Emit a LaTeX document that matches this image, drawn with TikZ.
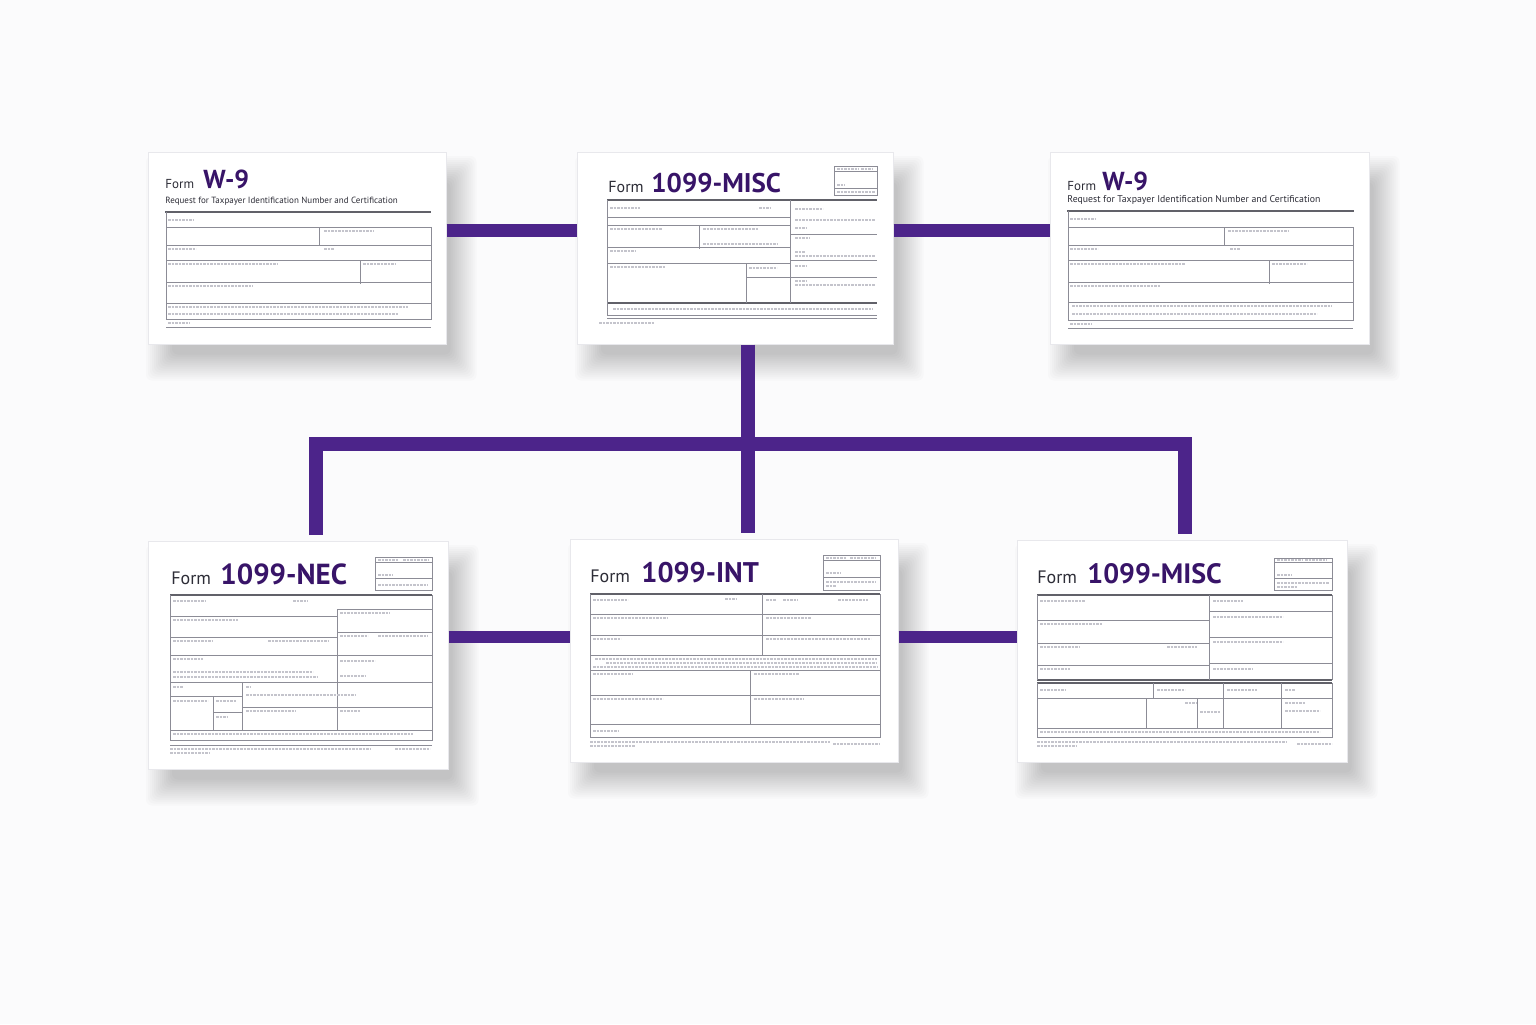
\documentclass[tikz,border=0pt]{standalone}
\usepackage{fontspec}
\setmainfont{PT Sans}
\usetikzlibrary{calc}
\definecolor{linkpurple}{RGB}{76,36,138}
\definecolor{titlepurple}{RGB}{56,20,104}
\definecolor{inkgray}{RGB}{45,45,55}
\definecolor{rulegray}{RGB}{140,140,150}
\definecolor{fillgray}{RGB}{196,196,204}
\definecolor{paper}{RGB}{251,251,252}
\pgfdeclarelayer{back}
\pgfdeclarelayer{shade}
\pgfsetlayers{back,shade,main}
\tikzset{
  card/.style={fill=white, draw={rgb,255:red,232;green,232;blue,236}, line width=0.3pt, inner sep=0pt, anchor=north west},
  link/.style={draw=linkpurple, line width=6.5pt},
  grid/.style={draw=rulegray, line width=0.35pt},
  heavy/.style={draw=inkgray!75, line width=0.8pt},
  filler/.style={draw=fillgray, line width=1pt, dash pattern=on 1.4pt off 0.35pt},
  formword/.style={anchor=base west, inner sep=0pt, text=inkgray, font=\fontsize{#1}{#1}\selectfont},
  formname/.style={anchor=base west, inner sep=0pt, text=titlepurple, font=\fontsize{#1}{#1}\selectfont\bfseries},
}
\newcommand{\fl}[3]{\draw[filler] (#1,#2) -- ++(#3,0);}
\begin{document}
\begin{tikzpicture}[x=0.5pt,y=0.5pt,yscale=-1,xscale=1]
\useasboundingbox (0,0) rectangle (1536,1024);
\begin{pgfonlayer}{back}
  \fill[paper] (0,0) rectangle (1536,1024);
\end{pgfonlayer}
% cards
\node[card, minimum width=149pt, minimum height=96pt] (wninea) at (148,152) {};
\node[card, minimum width=158pt, minimum height=96pt] (misca) at (577,152) {};
\node[card, minimum width=159.5pt, minimum height=96pt] (wnineb) at (1050,152) {};
\node[card, minimum width=150pt, minimum height=114pt] (necc) at (148,541) {};
\node[card, minimum width=164pt, minimum height=111.5pt] (intb) at (570,539) {};
\node[card, minimum width=165pt, minimum height=111pt] (miscb) at (1017,540) {};
% soft shadows
\begin{pgfonlayer}{shade}
  \foreach \c in {wninea,misca,wnineb,necc,intb,miscb}
    \foreach \s in {1,...,14}
      \fill[black, opacity=0.016, rounded corners=3pt]
        ($(\c.north west)+(26-2*\s,32-2*\s)$) rectangle ($(\c.south east)+(2+2*\s,8+2*\s)$);
\end{pgfonlayer}
% connectors
\coordinate (toprow) at (0,230.5);
\coordinate (lowrow) at (0,637);
\coordinate (hub) at (748,444);
\coordinate (busl) at (315.5,444);
\coordinate (busr) at (1185,444);
\draw[link] (wninea.east |- toprow) -- (misca.west |- toprow);
\draw[link] (misca.east |- toprow) -- (wnineb.west |- toprow);
\draw[link, line width=7pt, shorten >=3pt] (hub |- misca.south) -- (hub |- intb.north);
\draw[link, line width=7pt, shorten <=3pt, shorten >=3pt] (busl |- necc.north) -- (busl) -- (busr) -- (busr |- miscb.north);
\draw[link, line width=6pt] (necc.east |- lowrow) -- (intb.west |- lowrow);
\draw[link, line width=6pt] (intb.east |- lowrow) -- (miscb.west |- lowrow);

% W-9, left
\begin{scope}[shift={(wninea.north west)}]
  \node[formword=6.5] (wnineaform) at (17,36) {Form};
  \node[formname=13] (wnineaname) at (55,36) {W-9};
  \node[formword=4.5] (wnineasub) at (17,51) {Request for Taxpayer Identification Number and Certification};
  \draw[heavy] (17,60) -- (283,60);
  \draw[grid] (18,60) -- (18,167) -- (283,167) -- (283,75);
  \foreach \y in {75,93,108,130,151} \draw[grid] (18,\y) -- (283,\y);
  \draw[grid] (171,75) -- (171,93) (212,108) -- (212,132) (18,175) -- (283,175);
  \fl{20}{68}{25} \fl{176}{79}{50} \fl{20}{97}{28} \fl{176}{97}{10}
  \fl{20}{112}{110} \fl{215}{112}{32} \fl{20}{134}{85}
  \fl{20}{155}{240} \fl{20}{162}{230} \fl{20}{171}{22}
\end{scope}

% 1099-MISC, top
\begin{scope}[shift={(misca.north west)}]
  \node[formword=8] (miscaform) at (31,40) {Form};
  \node[formname=13.5] (miscaname) at (74,40) {1099-MISC};
  \draw[grid] (257,14) rectangle (300,43) (257,19) -- (300,19) (257,36) -- (300,36);
  \fl{260}{17}{22} \fl{284}{17}{12} \fl{260}{33}{8} \fl{260}{40}{38}
  \draw[heavy] (30,48) -- (300,48) (30,151) -- (300,151);
  \draw[grid] (30,48) -- (30,163) -- (300,163) (30,166) -- (300,166) (213,48) -- (213,151);
  \foreach \y in {65,73,95,111} \draw[grid] (30,\y) -- (213,\y);
  \foreach \y in {82,108,125} \draw[grid] (213,\y) -- (300,\y);
  \draw[grid] (122,73) -- (122,97) (169,111) -- (169,151) (169,125) -- (213,125);
  \fl{33}{56}{30} \fl{182}{56}{12} \fl{218}{57}{28} \fl{218}{68}{80}
  \fl{33}{77}{52} \fl{126}{77}{55} \fl{126}{92}{75} \fl{218}{76}{12} \fl{218}{86}{15}
  \fl{33}{99}{25} \fl{218}{100}{10} \fl{218}{104}{80}
  \fl{33}{115}{55} \fl{172}{116}{28} \fl{218}{114}{12} \fl{218}{129}{12} \fl{218}{133}{80}
  \fl{36}{157}{260} \fl{22}{171}{55}
\end{scope}

% W-9, right
\begin{scope}[shift={(wnineb.north west)}]
  \node[formword=6.5] (wninebform) at (17,38) {Form};
  \node[formname=13] (wninebname) at (52,38) {W-9};
  \node[formword=4.9] (wninebsub) at (17,50) {Request for Taxpayer Identification Number and Certification};
  \draw[heavy] (17,59) -- (304,59);
  \draw[grid] (18,59) -- (18,168) -- (303,168) -- (303,75);
  \foreach \y in {75,93,108,130,150} \draw[grid] (18,\y) -- (303,\y);
  \draw[grid] (174,75) -- (174,93) (219,108) -- (219,132) (18,176) -- (303,176);
  \fl{20}{67}{25} \fl{178}{79}{60} \fl{20}{97}{28} \fl{180}{97}{10}
  \fl{20}{112}{115} \fl{222}{112}{35} \fl{20}{134}{90}
  \fl{22}{154}{260} \fl{22}{162}{245} \fl{20}{172}{22}
\end{scope}

% 1099-NEC
\begin{scope}[shift={(necc.north west)}]
  \node[formword=9] (neccform) at (23,43) {Form};
  \node[formname=14.5] (neccname) at (72,43) {1099-NEC};
  \draw[grid] (227,16) rectangle (284,49) (227,21) -- (284,21) (227,37) -- (284,37);
  \fl{230}{19}{20} \fl{255}{19}{25} \fl{230}{34}{15} \fl{230}{44}{50}
  \draw[heavy] (22,54) -- (284,54);
  \draw[grid] (22,54) -- (22,199) -- (284,199) -- (284,54) (22,189) -- (284,189);
  \foreach \y in {75,96,114,141} \draw[grid] (22,\y) -- (189,\y);
  \foreach \y in {68,91,114,141,166} \draw[grid] (189,\y) -- (284,\y);
  \draw[grid] (189,68) -- (189,189) (94,141) -- (94,189) (65,155) -- (65,189)
    (22,155) -- (94,155) (65,171) -- (94,171) (94,166) -- (189,166);
  \fl{25}{60}{32} \fl{145}{60}{15} \fl{25}{79}{65} \fl{192}{72}{50}
  \fl{25}{100}{40} \fl{120}{100}{60} \fl{192}{95}{28} \fl{230}{95}{50}
  \fl{25}{118}{30} \fl{192}{120}{35} \fl{25}{131}{140} \fl{25}{136}{145} \fl{192}{135}{25}
  \fl{25}{146}{10} \fl{98}{146}{5} \fl{25}{160}{35} \fl{68}{160}{20} \fl{98}{154}{110}
  \fl{68}{176}{12} \fl{98}{170}{50} \fl{192}{170}{20}
  \fl{25}{193}{240}
  \draw[grid] (22,204) -- (284,204);
  \fl{22}{208}{200} \fl{22}{212}{40} \fl{247}{208}{35}
\end{scope}

% 1099-INT
\begin{scope}[shift={(intb.north west)}]
  \node[formword=9] (intbform) at (20,43) {Form};
  \node[formname=14.2] (intbname) at (71,43) {1099-INT};
  \draw[grid] (253,16) rectangle (310,51) (253,21) -- (310,21) (253,38) -- (310,38);
  \fl{256}{19}{20} \fl{280}{19}{25} \fl{256}{34}{15} \fl{256}{43}{50} \fl{256}{47}{10}
  \draw[heavy] (20,55) -- (310,55);
  \draw[grid] (20,55) -- (20,198) -- (310,198) -- (310,55);
  \foreach \y in {75,96,116,131,156,185} \draw[grid] (20,\y) -- (310,\y);
  \draw[grid] (192,55) -- (192,116) (180,131) -- (180,185);
  \fl{23}{61}{35} \fl{155}{60}{12} \fl{196}{61}{10} \fl{213}{61}{15} \fl{268}{61}{30}
  \fl{23}{79}{75} \fl{196}{79}{45} \fl{23}{100}{28} \fl{196}{100}{105}
  \fl{25}{120}{282} \fl{36}{124}{270} \fl{23}{128}{285}
  \fl{23}{135}{40} \fl{184}{135}{45} \fl{23}{160}{70} \fl{184}{160}{50} \fl{23}{192}{25}
  \fl{20}{203}{240} \fl{20}{207}{45} \fl{263}{205}{47}
\end{scope}

% 1099-MISC, bottom
\begin{scope}[shift={(miscb.north west)}]
  \node[formword=9] (miscbform) at (20,43) {Form};
  \node[formname=14] (miscbname) at (70,43) {1099-MISC};
  \draw[grid] (257,18) rectangle (315,50) (257,22) -- (315,22) (257,38) -- (315,38);
  \fl{260}{20}{25} \fl{288}{20}{22} \fl{260}{35}{15} \fl{260}{43}{52} \fl{260}{47}{20}
  \draw[heavy] (20,55) -- (315,55) (20,140) -- (315,140) (20,143) -- (315,143);
  \draw[grid] (20,55) -- (20,140) (315,55) -- (315,140) (192,55) -- (192,140);
  \foreach \y in {80,103,125} \draw[grid] (20,\y) -- (192,\y);
  \foreach \y in {71,97,123} \draw[grid] (192,\y) -- (315,\y);
  \draw[grid] (20,143) -- (20,197) -- (315,197) -- (315,143) (20,158) -- (315,158) (20,188) -- (315,188);
  \draw[grid] (136,143) -- (136,158) (129,158) -- (129,188) (180,158) -- (180,188)
    (206,143) -- (206,188) (264,143) -- (264,188);
  \fl{23}{61}{45} \fl{23}{84}{62} \fl{23}{107}{40} \fl{150}{107}{30} \fl{23}{129}{30}
  \fl{196}{61}{30} \fl{196}{77}{70} \fl{196}{102}{70} \fl{196}{129}{40}
  \fl{23}{150}{25} \fl{140}{150}{28} \fl{210}{150}{30} \fl{268}{150}{10}
  \fl{168}{163}{12} \fl{268}{163}{20} \fl{268}{171}{35} \fl{183}{172}{20} \fl{23}{192}{280}
  \fl{20}{202}{250} \fl{20}{206}{40} \fl{280}{204}{35}
\end{scope}
\end{tikzpicture}
\end{document}
